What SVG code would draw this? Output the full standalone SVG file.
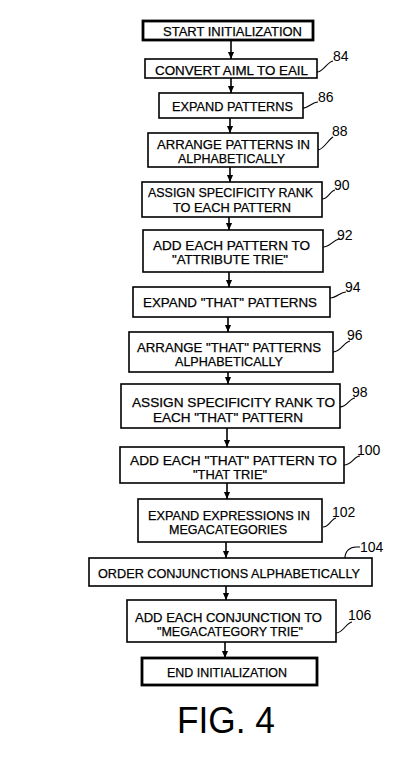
<svg xmlns="http://www.w3.org/2000/svg" width="409" height="772" viewBox="0 0 409 772">
<style>
.box{fill:#fff;stroke:#000;stroke-width:1.6}
.term{fill:#fff;stroke:#000;stroke-width:2.8}
.t{font-family:"Liberation Sans",Arial,sans-serif;font-size:13px;fill:#000;stroke:#000;stroke-width:0.25}
.ref{font-family:"Liberation Sans",Arial,sans-serif;font-size:14px;fill:#000}
.fig{font-family:"Liberation Sans",Arial,sans-serif;font-size:36px;fill:#000}
.flow{stroke:#000;stroke-width:1.6;fill:none}
.lead{stroke:#000;stroke-width:1.1;fill:none}
</style>
<defs>
<marker id="arr" markerUnits="userSpaceOnUse" markerWidth="7" markerHeight="8" refX="8" refY="3.5" orient="auto" viewBox="0 0 8 7">
<path d="M0,0 L8,3.5 L0,7 Z" fill="#000"/>
</marker>
</defs>
<rect width="409" height="772" fill="#fff"/>

<g id="connectors">
<path class="flow" marker-end="url(#arr)" d="M231,40 L231,59"/>
<path class="flow" marker-end="url(#arr)" d="M231,78 L231,93"/>
<path class="flow" marker-end="url(#arr)" d="M230,118 L230,133"/>
<path class="flow" marker-end="url(#arr)" d="M230,167 L230,182"/>
<path class="flow" marker-end="url(#arr)" d="M229,217 L229,230"/>
<path class="flow" marker-end="url(#arr)" d="M229,272 L229,287"/>
<path class="flow" marker-end="url(#arr)" d="M228,317 L228,332"/>
<path class="flow" marker-end="url(#arr)" d="M228,372 L228,384"/>
<path class="flow" marker-end="url(#arr)" d="M227,428 L227,447"/>
<path class="flow" marker-end="url(#arr)" d="M227,483 L227,499"/>
<path class="flow" marker-end="url(#arr)" d="M226,542 L226,558"/>
<path class="flow" marker-end="url(#arr)" d="M226,586 L226,600"/>
<path class="flow" marker-end="url(#arr)" d="M225,642 L225,658"/>
</g>

<g id="leaders">
<path class="lead" d="M317,72 C323,72 327,62 333,61"/>
<path class="lead" d="M303,108 C309,108 312,102 318,102"/>
<path class="lead" d="M318,150 C324,149 328,140 333,137"/>
<path class="lead" d="M322,199 C328,199 330,191 335,190"/>
<path class="lead" d="M323,247 C330,247 333,240 339,239"/>
<path class="lead" d="M330,298 C337,298 340,292 346,292"/>
<path class="lead" d="M333,352 C341,352 344,342 350,341"/>
<path class="lead" d="M340,407 C347,407 350,398 355,398"/>
<path class="lead" d="M344,465 C352,465 354,456 360,456"/>
<path class="lead" d="M323,527 C329,527 331,519 336,518"/>
<path class="lead" d="M345,558 C345,551 350,547 356,547 L360,547"/>
<path class="lead" d="M336,633 C343,633 346,623 352,622"/>
</g>

<g id="n-start">
<rect class="term" x="143" y="21" width="170" height="19"/>
<text class="t" x="163" y="35.5" textLength="139" lengthAdjust="spacingAndGlyphs">START INITIALIZATION</text>
</g>
<g id="n84">
<rect class="box" x="145" y="59" width="172" height="19"/>
<text class="t" x="155" y="74.5" textLength="153" lengthAdjust="spacingAndGlyphs">CONVERT AIML TO EAIL</text>
<text class="ref" x="333" y="60.5">84</text>
</g>
<g id="n86">
<rect class="box" x="159" y="93" width="144" height="25"/>
<text class="t" x="172" y="111" textLength="121" lengthAdjust="spacingAndGlyphs">EXPAND PATTERNS</text>
<text class="ref" x="318" y="102">86</text>
</g>
<g id="n88">
<rect class="box" x="148" y="133" width="170" height="34"/>
<text class="t" x="157" y="149" textLength="153" lengthAdjust="spacingAndGlyphs">ARRANGE PATTERNS IN</text>
<text class="t" x="178" y="163" textLength="107" lengthAdjust="spacingAndGlyphs">ALPHABETICALLY</text>
<text class="ref" x="332" y="135.5">88</text>
</g>
<g id="n90">
<rect class="box" x="142" y="182" width="180" height="35"/>
<text class="t" x="148" y="197" textLength="165" lengthAdjust="spacingAndGlyphs">ASSIGN SPECIFICITY RANK</text>
<text class="t" x="173" y="212" textLength="118" lengthAdjust="spacingAndGlyphs">TO EACH PATTERN</text>
<text class="ref" x="334" y="190">90</text>
</g>
<g id="n92">
<rect class="box" x="143" y="230" width="180" height="42"/>
<text class="t" x="153" y="250" textLength="157" lengthAdjust="spacingAndGlyphs">ADD EACH PATTERN TO</text>
<text class="t" x="172" y="264" textLength="116" lengthAdjust="spacingAndGlyphs">"ATTRIBUTE TRIE"</text>
<text class="ref" x="337" y="240">92</text>
</g>
<g id="n94">
<rect class="box" x="133" y="287" width="197" height="30"/>
<text class="t" x="143" y="307" textLength="174" lengthAdjust="spacingAndGlyphs">EXPAND "THAT" PATTERNS</text>
<text class="ref" x="345" y="292">94</text>
</g>
<g id="n96">
<rect class="box" x="129" y="332" width="204" height="40"/>
<text class="t" x="137" y="351.5" textLength="184" lengthAdjust="spacingAndGlyphs">ARRANGE "THAT" PATTERNS</text>
<text class="t" x="175" y="365.5" textLength="108" lengthAdjust="spacingAndGlyphs">ALPHABETICALLY</text>
<text class="ref" x="347" y="340">96</text>
</g>
<g id="n98">
<rect class="box" x="121" y="384" width="219" height="44"/>
<text class="t" x="132" y="407" textLength="203" lengthAdjust="spacingAndGlyphs">ASSIGN SPECIFICITY RANK TO</text>
<text class="t" x="153" y="422" textLength="150" lengthAdjust="spacingAndGlyphs">EACH "THAT" PATTERN</text>
<text class="ref" x="352" y="397">98</text>
</g>
<g id="n100">
<rect class="box" x="120" y="447" width="224" height="36"/>
<text class="t" x="130" y="464.5" textLength="207" lengthAdjust="spacingAndGlyphs">ADD EACH "THAT" PATTERN TO</text>
<text class="t" x="193" y="479" textLength="74" lengthAdjust="spacingAndGlyphs">"THAT TRIE"</text>
<text class="ref" x="357" y="455">100</text>
</g>
<g id="n102">
<rect class="box" x="138" y="499" width="184" height="43"/>
<text class="t" x="148" y="520" textLength="162" lengthAdjust="spacingAndGlyphs">EXPAND EXPRESSIONS IN</text>
<text class="t" x="169" y="534" textLength="118" lengthAdjust="spacingAndGlyphs">MEGACATEGORIES</text>
<text class="ref" x="332" y="517">102</text>
</g>
<g id="n104">
<rect class="box" x="89" y="558" width="283" height="28"/>
<text class="t" x="98" y="578" textLength="262" lengthAdjust="spacingAndGlyphs">ORDER CONJUNCTIONS ALPHABETICALLY</text>
<text class="ref" x="360" y="552">104</text>
</g>
<g id="n106">
<rect class="box" x="127" y="600" width="209" height="42"/>
<text class="t" x="135" y="621.5" textLength="187" lengthAdjust="spacingAndGlyphs">ADD EACH CONJUNCTION TO</text>
<text class="t" x="157" y="635.5" textLength="146" lengthAdjust="spacingAndGlyphs">"MEGACATEGORY TRIE"</text>
<text class="ref" x="348" y="620">106</text>
</g>
<g id="n-end">
<rect class="term" x="142" y="658" width="175" height="27"/>
<text class="t" x="167" y="677" textLength="120" lengthAdjust="spacingAndGlyphs">END INITIALIZATION</text>
</g>
<g id="caption">
<text class="fig" x="177" y="733" textLength="98" lengthAdjust="spacingAndGlyphs">FIG. 4</text>
</g>
</svg>
